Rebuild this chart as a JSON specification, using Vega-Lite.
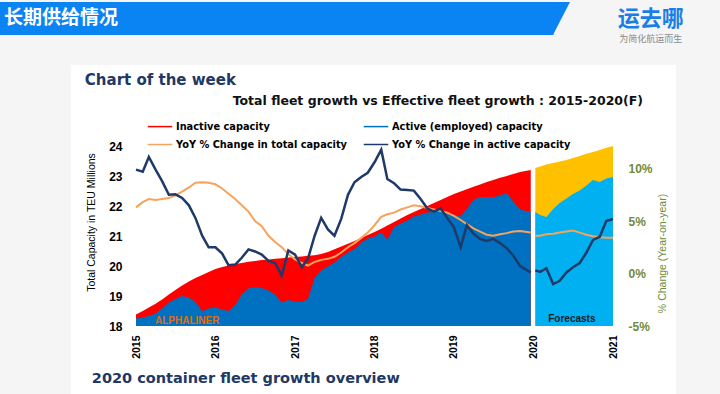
{
  "$schema": "https://vega.github.io/schema/vega-lite/v6.json",
  "width": 477,
  "height": 180,
  "autosize": {"type": "none"},
  "padding": {"left": 136, "top": 146, "right": 107, "bottom": 68},
  "background": "#f5f5f5",
  "config": {"view": {"stroke": null}, "font": "Liberation Sans", "axis": {"labelFont": "Liberation Sans", "titleFont": "Liberation Sans"}},
  "data": {"values": [
    {"date": "2015/01/01", "total": 18.38, "active": 18.25, "yoy_total": 6.3, "yoy_active": 9.9, "period": "actual"},
    {"date": "2015/02/01", "total": 18.5, "active": 18.28, "yoy_total": 6.8, "yoy_active": 9.7, "period": "actual"},
    {"date": "2015/03/01", "total": 18.62, "active": 18.33, "yoy_total": 7.1, "yoy_active": 11.1, "period": "actual"},
    {"date": "2015/04/01", "total": 18.74, "active": 18.42, "yoy_total": 7.0, "yoy_active": 9.9, "period": "actual"},
    {"date": "2015/05/01", "total": 18.88, "active": 18.58, "yoy_total": 7.1, "yoy_active": 8.8, "period": "actual"},
    {"date": "2015/06/01", "total": 19.05, "active": 18.78, "yoy_total": 7.2, "yoy_active": 7.5, "period": "actual"},
    {"date": "2015/07/01", "total": 19.2, "active": 18.9, "yoy_total": 7.45, "yoy_active": 7.55, "period": "actual"},
    {"date": "2015/08/01", "total": 19.35, "active": 19.0, "yoy_total": 7.8, "yoy_active": 7.2, "period": "actual"},
    {"date": "2015/09/01", "total": 19.48, "active": 18.95, "yoy_total": 8.2, "yoy_active": 6.5, "period": "actual"},
    {"date": "2015/10/01", "total": 19.6, "active": 18.8, "yoy_total": 8.65, "yoy_active": 5.3, "period": "actual"},
    {"date": "2015/11/01", "total": 19.7, "active": 18.5, "yoy_total": 8.7, "yoy_active": 3.6, "period": "actual"},
    {"date": "2015/12/01", "total": 19.8, "active": 18.58, "yoy_total": 8.65, "yoy_active": 2.5, "period": "actual"},
    {"date": "2016/01/01", "total": 19.9, "active": 18.62, "yoy_total": 8.5, "yoy_active": 2.5, "period": "actual"},
    {"date": "2016/02/01", "total": 19.97, "active": 18.55, "yoy_total": 8.1, "yoy_active": 1.9, "period": "actual"},
    {"date": "2016/03/01", "total": 20.02, "active": 18.5, "yoy_total": 7.6, "yoy_active": 0.8, "period": "actual"},
    {"date": "2016/04/01", "total": 20.07, "active": 18.7, "yoy_total": 7.1, "yoy_active": 0.85, "period": "actual"},
    {"date": "2016/05/01", "total": 20.1, "active": 19.05, "yoy_total": 6.5, "yoy_active": 1.5, "period": "actual"},
    {"date": "2016/06/01", "total": 20.14, "active": 19.25, "yoy_total": 5.9, "yoy_active": 2.3, "period": "actual"},
    {"date": "2016/07/01", "total": 20.17, "active": 19.3, "yoy_total": 5.0, "yoy_active": 2.1, "period": "actual"},
    {"date": "2016/08/01", "total": 20.2, "active": 19.27, "yoy_total": 4.5, "yoy_active": 1.8, "period": "actual"},
    {"date": "2016/09/01", "total": 20.22, "active": 19.18, "yoy_total": 3.6, "yoy_active": 1.2, "period": "actual"},
    {"date": "2016/10/01", "total": 20.24, "active": 19.05, "yoy_total": 3.0, "yoy_active": 1.0, "period": "actual"},
    {"date": "2016/11/01", "total": 20.26, "active": 18.78, "yoy_total": 2.5, "yoy_active": -0.2, "period": "actual"},
    {"date": "2016/12/01", "total": 20.28, "active": 18.87, "yoy_total": 1.85, "yoy_active": 2.2, "period": "actual"},
    {"date": "2017/01/01", "total": 20.3, "active": 18.82, "yoy_total": 1.35, "yoy_active": 1.8, "period": "actual"},
    {"date": "2017/02/01", "total": 20.32, "active": 18.8, "yoy_total": 1.0, "yoy_active": 0.6, "period": "actual"},
    {"date": "2017/03/01", "total": 20.34, "active": 18.9, "yoy_total": 0.76, "yoy_active": 1.4, "period": "actual"},
    {"date": "2017/04/01", "total": 20.36, "active": 19.6, "yoy_total": 1.1, "yoy_active": 3.6, "period": "actual"},
    {"date": "2017/05/01", "total": 20.4, "active": 19.85, "yoy_total": 1.3, "yoy_active": 5.3, "period": "actual"},
    {"date": "2017/06/01", "total": 20.47, "active": 19.98, "yoy_total": 1.4, "yoy_active": 4.2, "period": "actual"},
    {"date": "2017/07/01", "total": 20.56, "active": 20.12, "yoy_total": 1.6, "yoy_active": 3.6, "period": "actual"},
    {"date": "2017/08/01", "total": 20.65, "active": 20.3, "yoy_total": 2.0, "yoy_active": 5.2, "period": "actual"},
    {"date": "2017/09/01", "total": 20.74, "active": 20.45, "yoy_total": 2.5, "yoy_active": 7.5, "period": "actual"},
    {"date": "2017/10/01", "total": 20.83, "active": 20.57, "yoy_total": 2.9, "yoy_active": 8.7, "period": "actual"},
    {"date": "2017/11/01", "total": 20.93, "active": 20.78, "yoy_total": 3.4, "yoy_active": 9.2, "period": "actual"},
    {"date": "2017/12/01", "total": 21.03, "active": 20.92, "yoy_total": 3.9, "yoy_active": 9.6, "period": "actual"},
    {"date": "2018/01/01", "total": 21.13, "active": 20.98, "yoy_total": 4.6, "yoy_active": 10.6, "period": "actual"},
    {"date": "2018/02/01", "total": 21.24, "active": 21.12, "yoy_total": 5.4, "yoy_active": 11.8, "period": "actual"},
    {"date": "2018/03/01", "total": 21.35, "active": 20.88, "yoy_total": 5.65, "yoy_active": 9.0, "period": "actual"},
    {"date": "2018/04/01", "total": 21.47, "active": 21.3, "yoy_total": 5.8, "yoy_active": 8.6, "period": "actual"},
    {"date": "2018/05/01", "total": 21.58, "active": 21.42, "yoy_total": 6.1, "yoy_active": 8.0, "period": "actual"},
    {"date": "2018/06/01", "total": 21.7, "active": 21.52, "yoy_total": 6.3, "yoy_active": 7.95, "period": "actual"},
    {"date": "2018/07/01", "total": 21.8, "active": 21.65, "yoy_total": 6.5, "yoy_active": 7.9, "period": "actual"},
    {"date": "2018/08/01", "total": 21.9, "active": 21.72, "yoy_total": 6.4, "yoy_active": 7.1, "period": "actual"},
    {"date": "2018/09/01", "total": 22.0, "active": 21.78, "yoy_total": 6.25, "yoy_active": 6.2, "period": "actual"},
    {"date": "2018/10/01", "total": 22.1, "active": 21.8, "yoy_total": 6.1, "yoy_active": 5.9, "period": "actual"},
    {"date": "2018/11/01", "total": 22.2, "active": 21.8, "yoy_total": 5.95, "yoy_active": 6.2, "period": "actual"},
    {"date": "2018/12/01", "total": 22.3, "active": 21.78, "yoy_total": 5.8, "yoy_active": 5.3, "period": "actual"},
    {"date": "2019/01/01", "total": 22.4, "active": 21.7, "yoy_total": 5.5, "yoy_active": 4.4, "period": "actual"},
    {"date": "2019/02/01", "total": 22.48, "active": 21.65, "yoy_total": 5.1, "yoy_active": 2.5, "period": "actual"},
    {"date": "2019/03/01", "total": 22.56, "active": 21.9, "yoy_total": 4.7, "yoy_active": 4.6, "period": "actual"},
    {"date": "2019/04/01", "total": 22.64, "active": 22.2, "yoy_total": 4.3, "yoy_active": 3.8, "period": "actual"},
    {"date": "2019/05/01", "total": 22.72, "active": 22.3, "yoy_total": 4.0, "yoy_active": 3.3, "period": "actual"},
    {"date": "2019/06/01", "total": 22.8, "active": 22.3, "yoy_total": 3.7, "yoy_active": 3.1, "period": "actual"},
    {"date": "2019/07/01", "total": 22.87, "active": 22.3, "yoy_total": 3.6, "yoy_active": 3.3, "period": "actual"},
    {"date": "2019/08/01", "total": 22.94, "active": 22.35, "yoy_total": 3.75, "yoy_active": 2.9, "period": "actual"},
    {"date": "2019/09/01", "total": 23.0, "active": 22.43, "yoy_total": 3.85, "yoy_active": 2.4, "period": "actual"},
    {"date": "2019/10/01", "total": 23.07, "active": 22.15, "yoy_total": 4.0, "yoy_active": 1.7, "period": "actual"},
    {"date": "2019/11/01", "total": 23.13, "active": 21.88, "yoy_total": 4.05, "yoy_active": 0.7, "period": "actual"},
    {"date": "2019/12/20", "total": 23.2, "active": 21.8, "yoy_total": 3.9, "yoy_active": 0.1, "period": "actual"},
    {"date": "2020/01/10", "total": 23.27, "active": 21.8, "yoy_total": 3.6, "yoy_active": 0.3, "period": "forecast"},
    {"date": "2020/02/01", "total": 23.32, "active": 21.7, "yoy_total": 3.6, "yoy_active": 0.15, "period": "forecast"},
    {"date": "2020/03/01", "total": 23.38, "active": 21.63, "yoy_total": 3.75, "yoy_active": 0.5, "period": "forecast"},
    {"date": "2020/04/01", "total": 23.43, "active": 21.9, "yoy_total": 3.8, "yoy_active": -1.0, "period": "forecast"},
    {"date": "2020/05/01", "total": 23.48, "active": 22.1, "yoy_total": 3.9, "yoy_active": -0.7, "period": "forecast"},
    {"date": "2020/06/01", "total": 23.53, "active": 22.25, "yoy_total": 4.0, "yoy_active": 0.1, "period": "forecast"},
    {"date": "2020/07/01", "total": 23.6, "active": 22.4, "yoy_total": 4.1, "yoy_active": 0.6, "period": "forecast"},
    {"date": "2020/08/01", "total": 23.67, "active": 22.52, "yoy_total": 3.9, "yoy_active": 1.0, "period": "forecast"},
    {"date": "2020/09/01", "total": 23.74, "active": 22.68, "yoy_total": 3.7, "yoy_active": 2.0, "period": "forecast"},
    {"date": "2020/10/01", "total": 23.8, "active": 22.87, "yoy_total": 3.55, "yoy_active": 3.2, "period": "forecast"},
    {"date": "2020/11/01", "total": 23.87, "active": 22.8, "yoy_total": 3.45, "yoy_active": 3.5, "period": "forecast"},
    {"date": "2020/12/01", "total": 23.94, "active": 22.92, "yoy_total": 3.4, "yoy_active": 5.0, "period": "forecast"},
    {"date": "2021/01/01", "total": 24.0, "active": 22.97, "yoy_total": 3.4, "yoy_active": 5.2, "period": "forecast"}
  ]},
  "layer": [
    {
      "layer": [
        {
          "data": {"values": [{}]},
          "mark": {"type": "rect", "color": "#ffffff"},
          "encoding": {
            "x": {"datum": {"year": 2014, "month": 3, "date": 8}, "type": "temporal"},
            "x2": {"datum": {"year": 2021, "month": 10, "date": 17}},
            "y": {
              "datum": 26.7, "type": "quantitative", "title": "Total Capacity in TEU Millions",
              "scale": {"domain": [18, 24], "nice": false, "zero": false},
              "axis": {
                "orient": "left", "values": [18, 19, 20, 21, 22, 23, 24], "tickCount": 7, "labelFontWeight": "bold", "labelFontSize": 12, "labelColor": "#000000", "labelOverlap": false,
                "domain": false, "ticks": false, "grid": false, "labelPadding": 14,
                "titleFont": "Liberation Sans", "titleFontSize": 10.5, "titleFontWeight": "normal", "titleColor": "#000000",
                "titleAngle": 270, "titleX": -45, "titleY": 76, "titleAlign": "center", "titleBaseline": "middle", "zindex": 1
              }
            },
            "y2": {"datum": 15.6}
          }
        },
        {
          "data": {"values": [{}]},
          "mark": {"type": "rect", "color": "#0b84f3"},
          "encoding": {
            "x": {"datum": {"year": 2013, "month": 4, "date": 10}, "type": "temporal"},
            "x2": {"datum": {"year": 2020, "month": 4, "date": 2}},
            "y": {"datum": 28.8, "type": "quantitative"},
            "y2": {"datum": 27.7}
          }
        },
        {
          "data": {"values": [{}]},
          "mark": {"type": "point", "shape": "M-1,-1L0.03,-1L-1,1Z", "filled": true, "color": "#0b84f3", "opacity": 1, "size": 1089, "strokeWidth": 0},
          "encoding": {
            "x": {"datum": {"year": 2020, "month": 6, "date": 15}, "type": "temporal"},
            "y": {"datum": 28.25, "type": "quantitative"}
          }
        },
        {
          "data": {"values": [{}]},
          "mark": {"type": "text", "text": "长期供给情况", "align": "left", "baseline": "middle", "font": "Noto Sans CJK SC", "fontSize": 19, "fontWeight": "bold", "color": "#ffffff"},
          "encoding": {
            "x": {"datum": {"year": 2013, "month": 5, "date": 4}, "type": "temporal"},
            "y": {"datum": 28.27, "type": "quantitative"}
          }
        },
        {
          "data": {"values": [{}]},
          "mark": {"type": "text", "text": "运去哪", "align": "center", "baseline": "middle", "font": "Noto Sans CJK SC", "fontSize": 22, "fontWeight": "bold", "color": "#1a7ee8"},
          "encoding": {
            "x": {"datum": {"year": 2021, "month": 6, "date": 24}, "type": "temporal"},
            "y": {"datum": 28.23, "type": "quantitative"}
          }
        },
        {
          "data": {"values": [{}]},
          "mark": {"type": "text", "text": "为简化航运而生", "align": "center", "baseline": "middle", "font": "Noto Sans CJK SC", "fontSize": 9, "color": "#8a8a8a"},
          "encoding": {
            "x": {"datum": {"year": 2021, "month": 6, "date": 24}, "type": "temporal"},
            "y": {"datum": 27.57, "type": "quantitative"}
          }
        },
        {
          "data": {"values": [{}]},
          "mark": {"type": "text", "text": "Chart of the week", "align": "left", "baseline": "alphabetic", "font": "DejaVu Sans", "fontSize": 15, "fontWeight": "bold", "color": "#1f3864"},
          "encoding": {
            "x": {"datum": {"year": 2014, "month": 5, "date": 11}, "type": "temporal"},
            "y": {"datum": 26.03, "type": "quantitative"}
          }
        },
        {
          "data": {"values": [{}]},
          "mark": {"type": "text", "text": "Total fleet growth vs Effective fleet growth : 2015-2020(F)", "align": "center", "baseline": "alphabetic", "font": "DejaVu Sans", "fontSize": 12.5, "fontWeight": "bold", "color": "#111111"},
          "encoding": {
            "x": {"datum": {"year": 2018, "month": 10, "date": 19}, "type": "temporal"},
            "y": {"datum": 25.37, "type": "quantitative"}
          }
        },
        {
          "data": {"values": [{}]},
          "mark": {"type": "text", "text": "2020 container fleet growth  overview", "align": "left", "baseline": "alphabetic", "font": "DejaVu Sans", "fontSize": 14.5, "fontWeight": "bold", "color": "#1f3864"},
          "encoding": {
            "x": {"datum": {"year": 2014, "month": 6, "date": 12}, "type": "temporal"},
            "y": {"datum": 16.1, "type": "quantitative"}
          }
        },
        {
          "transform": [{"filter": "datum.period == 'actual'"}],
          "mark": {"type": "area", "opacity": 1},
          "encoding": {
            "x": {
              "field": "date", "type": "temporal", "title": null,
              "scale": {"domain": [{"year": 2015, "month": 1, "date": 1}, {"year": 2021, "month": 1, "date": 1}]},
              "axis": {
                "values": [{"year": 2015, "month": 1, "date": 1}, {"year": 2016, "month": 1, "date": 1}, {"year": 2017, "month": 1, "date": 1}, {"year": 2018, "month": 1, "date": 1}, {"year": 2019, "month": 1, "date": 1}, {"year": 2020, "month": 1, "date": 1}, {"year": 2021, "month": 1, "date": 1}],
                "format": "%Y", "labelAngle": 270, "labelFontWeight": "bold", "labelFontSize": 10.5, "labelColor": "#000000", "labelOverlap": false,
                "domain": false, "ticks": false, "grid": false, "labelPadding": 9, "zindex": 1
              }
            },
            "y": {
              "field": "total", "type": "quantitative", "title": "Total Capacity in TEU Millions",
              "scale": {"domain": [18, 24], "nice": false, "zero": false},
              "axis": {
                "orient": "left", "values": [18, 19, 20, 21, 22, 23, 24], "tickCount": 7, "labelFontWeight": "bold", "labelFontSize": 12, "labelColor": "#000000", "labelOverlap": false,
                "domain": false, "ticks": false, "grid": false, "labelPadding": 14,
                "titleFont": "Liberation Sans", "titleFontSize": 10.5, "titleFontWeight": "normal", "titleColor": "#000000",
                "titleAngle": 270, "titleX": -45, "titleY": 76, "titleAlign": "center", "titleBaseline": "middle", "zindex": 1
              }
            },
            "y2": {"datum": 18},
            "color": {
              "datum": "Inactive capacity",
              "scale": {
                "domain": ["Inactive capacity", "YoY % Change in total capacity", "Active (employed) capacity", "YoY % Change in active capacity"],
                "range": ["#ff0000", "#f7a35c", "#0070c0", "#1f3a68"]
              },
              "legend": {
                "title": null, "orient": "none", "legendX": 11, "legendY": -32.5, "columns": 2, "columnPadding": 13, "rowPadding": 0,
                "symbolType": "stroke", "symbolSize": 600, "labelFont": "DejaVu Sans", "labelFontSize": 9.8, "labelFontWeight": "bold",
                "labelOffset": 3, "labelLimit": 300, "padding": 0,
                "encode": {
                  "symbols": {"update": {
                    "stroke": {"scale": "color", "field": "value"},
                    "strokeWidth": {"signal": "(datum.value == 'Inactive capacity' || datum.value == 'Active (employed) capacity') ? 6 : 2"},
                    "strokeCap": {"value": "butt"},
                    "opacity": {"value": 1}
                  }},
                  "labels": {"update": {
                    "fill": {"signal": "datum.value == 'YoY % Change in active capacity' ? '#6e8b3d' : '#000000'"}
                  }}
                }
              }
            }
          }
        },
        {
          "transform": [{"filter": "datum.period == 'actual'"}],
          "mark": {"type": "area", "opacity": 1},
          "encoding": {
            "x": {"field": "date", "type": "temporal"},
            "y": {"field": "active", "type": "quantitative"},
            "y2": {"datum": 18},
            "color": {"datum": "Active (employed) capacity"}
          }
        },
        {
          "transform": [{"filter": "datum.period == 'forecast'"}],
          "mark": {"type": "area", "color": "#ffc000", "opacity": 1},
          "encoding": {
            "x": {"field": "date", "type": "temporal"},
            "y": {"field": "total", "type": "quantitative"},
            "y2": {"datum": 18}
          }
        },
        {
          "transform": [{"filter": "datum.period == 'forecast'"}],
          "mark": {"type": "area", "color": "#00b0f0", "opacity": 1},
          "encoding": {
            "x": {"field": "date", "type": "temporal"},
            "y": {"field": "active", "type": "quantitative"},
            "y2": {"datum": 18}
          }
        },
        {
          "data": {"values": [{}]},
          "mark": {"type": "text", "text": "ALPHALINER", "align": "left", "baseline": "middle", "font": "Liberation Sans", "fontSize": 10, "fontWeight": "bold", "color": "#e36c09"},
          "encoding": {
            "x": {"datum": {"year": 2015, "month": 3, "date": 29}, "type": "temporal"},
            "y": {"datum": 18.17, "type": "quantitative"}
          }
        },
        {
          "data": {"values": [{}]},
          "mark": {"type": "text", "text": "Forecasts", "align": "center", "baseline": "middle", "font": "Liberation Sans", "fontSize": 10, "fontWeight": "bold", "color": "#0d1b2a"},
          "encoding": {
            "x": {"datum": {"year": 2020, "month": 6, "date": 26}, "type": "temporal"},
            "y": {"datum": 18.23, "type": "quantitative"}
          }
        }
      ]
    },
    {
      "layer": [
        {
          "mark": {"type": "line", "strokeWidth": 2},
          "encoding": {
            "x": {"field": "date", "type": "temporal"},
            "y": {
              "field": "yoy_total", "type": "quantitative", "title": "% Change (Year-on-year)",
              "scale": {"domain": [-5, 12.15], "nice": false, "zero": false},
              "axis": {
                "orient": "right", "values": [-5, 0, 5, 10], "labelExpr": "datum.value + '%'", "labelColor": "#6e8b3d", "labelFontWeight": "bold", "labelFontSize": 12,
                "domain": false, "ticks": false, "grid": false, "labelPadding": 15,
                "titleColor": "#6e8b3d", "titleFontWeight": "normal", "titleFontSize": 10.5, "titleAngle": 270, "titleX": 49, "titleY": 107,
                "titleAlign": "center", "titleBaseline": "middle", "zindex": 1
              }
            },
            "color": {"datum": "YoY % Change in total capacity"},
            "detail": {"field": "period"}
          }
        },
        {
          "mark": {"type": "line", "strokeWidth": 2.5},
          "encoding": {
            "x": {"field": "date", "type": "temporal"},
            "y": {"field": "yoy_active", "type": "quantitative"},
            "color": {"datum": "YoY % Change in active capacity"},
            "detail": {"field": "period"}
          }
        }
      ]
    }
  ],
  "resolve": {"scale": {"y": "independent"}}
}
